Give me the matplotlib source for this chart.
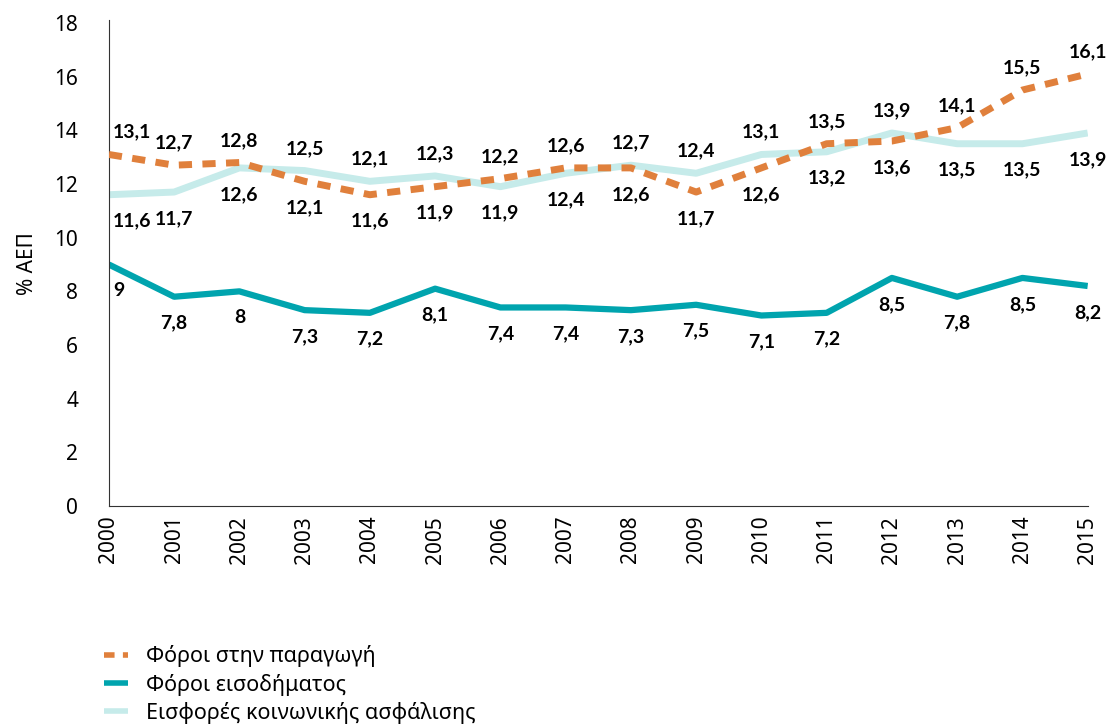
import matplotlib
matplotlib.use('Agg')
import matplotlib.pyplot as plt

# Données (% ΑΕΠ)
years = list(range(2000, 2016))
foroi_paragogi = [13.1, 12.7, 12.8, 12.1, 11.6, 11.9, 12.2, 12.6, 12.6, 11.7, 12.6, 13.5, 13.6, 14.1, 15.5, 16.1]
foroi_eisodimatos = [9, 7.8, 8, 7.3, 7.2, 8.1, 7.4, 7.4, 7.3, 7.5, 7.1, 7.2, 8.5, 7.8, 8.5, 8.2]
eisfores = [11.6, 11.7, 12.6, 12.5, 12.1, 12.3, 11.9, 12.4, 12.7, 12.4, 13.1, 13.2, 13.9, 13.5, 13.5, 13.9]

labels_series = ['Φόροι στην παραγωγή', 'Φόροι εισοδήματος', 'Εισφορές κοινωνικής ασφάλισης']

c_orange = '#e0803c'
c_teal = '#00a4ae'
c_light = '#c6ebea'

plt.rcParams['font.family'] = ['Noto Sans', 'DejaVu Sans']

fig = plt.figure(figsize=(11.11, 7.24), dpi=100)
ax = fig.add_axes([0.098, 0.301, 0.881, 0.671])

l3, = ax.plot(years, eisfores, color=c_light, lw=5, solid_capstyle='butt', zorder=2)
l2, = ax.plot(years, foroi_eisodimatos, color=c_teal, lw=4.5, solid_capstyle='butt', zorder=2)
l1, = ax.plot(years, foroi_paragogi, color=c_orange, lw=5, dashes=(1.9, 1.5),
              dash_capstyle='butt', zorder=3)


def etiquette(x, y, up):
    txt = ('%g' % y).replace('.', ',')
    dy = 16 if up else -19
    dx = 0
    ha = 'center'
    if x == years[0]:
        dx = 3
        ha = 'left'
    ax.annotate(txt, (x, y), xytext=(dx, dy), textcoords='offset points',
                ha=ha, va='center', fontsize=14, fontweight='bold', color='black',
                family=['Lato', 'DejaVu Sans'], annotation_clip=False)


# étiquettes: la série du haut au-dessus, celle du bas en dessous
for x, a, b in zip(years, foroi_paragogi, eisfores):
    etiquette(x, a, a >= b)
    etiquette(x, b, b > a)
for x, v in zip(years, foroi_eisodimatos):
    etiquette(x, v, False)

ax.set_xlim(2000, 2015)
ax.set_ylim(0, 18.1)
ax.set_yticks(range(0, 19, 2))
ax.set_xticks(years)
ax.set_xticklabels([str(y) for y in years], rotation=90)
ax.tick_params(axis='both', length=0, labelsize=15, pad=7)
ax.tick_params(axis='y', pad=22)
for s in ['top', 'right']:
    ax.spines[s].set_visible(False)
ax.spines['left'].set_color('#333333')
ax.spines['bottom'].set_color('#333333')
ax.set_ylabel('% ΑΕΠ', fontsize=15, labelpad=12)

leg = fig.legend([l1, l2, l3], labels_series, loc='upper left', bbox_to_anchor=(0.094, 0.109),
                 frameon=False, fontsize=15.5, handlelength=1.1, handletextpad=0.85,
                 labelspacing=0.3, borderpad=0, borderaxespad=0)
for h in leg.get_lines():
    h.set_linewidth(4)

fig.savefig('out.png', dpi=100)
